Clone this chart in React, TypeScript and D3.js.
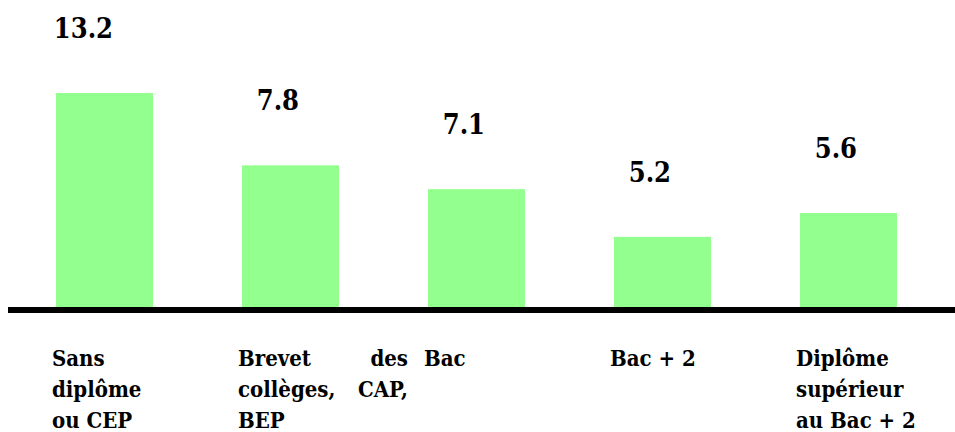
import React, { useEffect, useRef } from 'react'
import * as d3 from 'd3'

// categories (one entry per bar, lines as they wrap in the original)
const categories = [
  ['Sans', 'diplôme', 'ou CEP'],
  ['Brevet des', 'collèges, CAP,', 'BEP'],
  ['Bac'],
  ['Bac + 2'],
  ['Diplôme', 'supérieur', 'au Bac + 2'],
]
// printed values
const values = [13.2, 7.8, 7.1, 5.2, 5.6]
// bar lengths as drawn in the picture (same unit, the source is not to scale)
const drawn = [13.2, 8.8, 7.35, 4.45, 5.9]

const W = 955
const H = 432
const FONT = 'DejaVu Serif Condensed, DejaVu Serif'

export default function App() {
  const ref = useRef<SVGSVGElement | null>(null)

  useEffect(() => {
    if (!ref.current) return
    const svg = d3.select(ref.current)
    svg.selectAll('*').remove()

    const base = 310
    const x = d3
      .scaleBand<number>()
      .domain(d3.range(values.length))
      .range([56, 897])
      .paddingInner(89 / 186)
      .paddingOuter(0)
    const y = d3.scaleLinear().domain([0, 13.2]).range([base, 93])

    // bars
    svg
      .append('g')
      .selectAll('rect')
      .data(drawn)
      .join('rect')
      .attr('x', (_d, i) => x(i)!)
      .attr('y', (d) => y(d))
      .attr('width', x.bandwidth())
      .attr('height', (d) => base - y(d))
      .attr('fill', '#93ff8f')

    // baseline
    svg
      .append('line')
      .attr('x1', 8)
      .attr('x2', W)
      .attr('y1', base)
      .attr('y2', base)
      .attr('stroke', '#000')
      .attr('stroke-width', 6)

    // value labels
    svg
      .append('g')
      .selectAll('text')
      .data(values)
      .join('text')
      .attr('x', (_d, i) => x(i)! + 57)
      .attr('y', (_d, i) => y(drawn[i]) - 55)
      .attr('text-anchor', 'end')
      .attr('font-family', FONT)
      .attr('font-weight', 'bold')
      .attr('font-size', 27)
      .text((d) => d3.format('.1f')(d))

    // category labels, justified lines like the source
    const boxW = 170
    const lab = svg
      .append('g')
      .attr('font-family', FONT)
      .attr('font-weight', 'bold')
      .attr('font-size', 22)
    categories.forEach((lines, i) => {
      const x0 = x(i)! - 4
      lines.forEach((line, j) => {
        const yy = 366 + j * 31
        const words = line.split(' ')
        const justify = j < lines.length - 1 && words.length === 2 && line.length > 8
        if (justify) {
          lab.append('text').attr('x', x0).attr('y', yy).text(words[0])
          lab
            .append('text')
            .attr('x', x0 + boxW)
            .attr('y', yy)
            .attr('text-anchor', 'end')
            .text(words[1])
        } else {
          lab.append('text').attr('x', x0).attr('y', yy).text(line)
        }
      })
    })
  }, [])

  return (
    <svg
      ref={ref}
      width={W}
      height={H}
      style={{ position: 'fixed', left: 0, top: 0, background: '#fff' }}
    />
  )
}
